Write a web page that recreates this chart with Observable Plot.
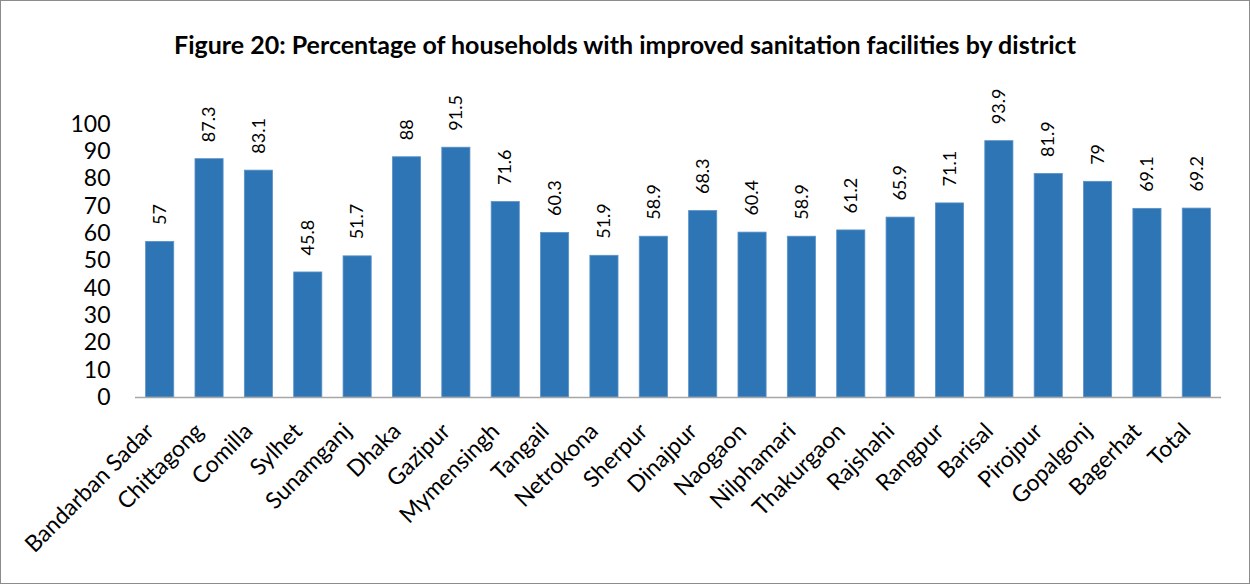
<!DOCTYPE html>
<html>
<head>
<meta charset="utf-8">
<script src="https://cdn.jsdelivr.net/npm/d3@7"></script>
<script src="https://cdn.jsdelivr.net/npm/@observablehq/plot@0.6"></script>
<style>
  html, body { margin: 0; padding: 0; background: #fff; }
  #frame { width: 1250px; height: 584px; box-sizing: border-box; border: 1px solid #8c8c8c; position: relative; overflow: hidden; font-family: Lato, "Open Sans", sans-serif; }
  #title { height: 70px; box-sizing: border-box; padding-top: 29px; text-align: center; font-weight: bold; font-size: 25px; color: #000; line-height: 28px; }
  #chart svg { display: block; }
</style>
</head>
<body>
<div id="frame">
  <div id="title">Figure 20: Percentage of households with improved sanitation facilities by district</div>
  <div id="chart"></div>
</div>
<script>
const districts = ["Bandarban Sadar","Chittagong","Comilla","Sylhet","Sunamganj","Dhaka","Gazipur","Mymensingh","Tangail","Netrokona","Sherpur","Dinajpur","Naogaon","Nilphamari","Thakurgaon","Rajshahi","Rangpur","Barisal","Pirojpur","Gopalgonj","Bagerhat","Total"];
const values = [57, 87.3, 83.1, 45.8, 51.7, 88, 91.5, 71.6, 60.3, 51.9, 58.9, 68.3, 60.4, 58.9, 61.2, 65.9, 71.1, 93.9, 81.9, 79, 69.1, 69.2];
const yTicks = [0, 10, 20, 30, 40, 50, 60, 70, 80, 90, 100];

const data = districts.map((d, i) => ({district: d, value: values[i]}));

const chart = Plot.plot({
  width: 1248,
  height: 512,
  marginTop: 53,
  marginBottom: 186,
  marginLeft: 134,
  marginRight: 28,
  style: {fontFamily: "Lato, 'Open Sans', sans-serif", color: "#000", background: "#fff"},
  x: {domain: districts, paddingInner: 0.43, paddingOuter: 0.215, round: false, label: null},
  y: {domain: [0, 100], label: null},
  marks: [
    Plot.barY(data, {x: "district", y: "value", fill: "#2E75B6", stroke: "#5b92c8", strokeWidth: 0.8}),
    Plot.ruleY([0], {stroke: "#a6a6a6", strokeWidth: 1.5}),
    Plot.axisY({ticks: yTicks, tickSize: 0, tickPadding: 25, fontSize: 23, tickFormat: d => String(d)}),
    Plot.axisX({tickSize: 0, tickRotate: -45, tickPadding: 30, dx: -10, fontSize: 23}),
    Plot.text(data, {x: "district", y: "value", text: d => String(d.value), rotate: -90, textAnchor: "start", dy: -17, fontSize: 18, fill: "#000"})
  ]
});
document.getElementById("chart").appendChild(chart);
</script>
</body>
</html>
